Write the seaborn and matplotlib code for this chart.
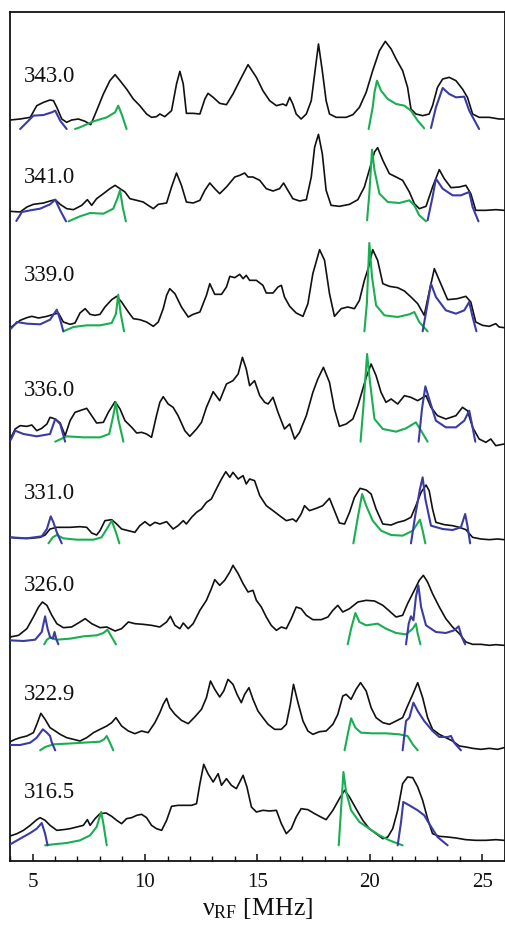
import matplotlib
matplotlib.use("Agg")
import matplotlib.pyplot as plt
from matplotlib.ticker import MultipleLocator
import seaborn as sns
import pandas as pd

# ---------------- data (x in MHz, intensity in arbitrary units) ----------------
field_labels = ["343.0", "341.0", "339.0", "336.0", "331.0", "326.0", "322.9", "316.5"]
offsets = [2223, 1949, 1602, 1286, 969, 672, 360, 75]
label_y = [2340, 2037, 1743, 1398, 1089, 813, 486, 192]

black_343 = [(4.01,0),(4.45,3),(4.90,8),(5.19,43),(5.49,53),(5.78,60),(5.93,58),(6.08,38),(6.30,3),(6.52,-7),(6.74,0),(7.04,3),(7.34,-4),(7.59,-14),(7.85,28),(8.15,78),(8.44,118),(8.67,136),(8.89,118),(9.18,93),(9.48,63),(9.77,43),(10.07,18),(10.29,8),(10.51,10),(10.66,18),(10.88,10),(11.18,28),(11.40,108),(11.55,146),(11.70,108),(11.84,20),(12.14,20),(12.44,18),(12.66,63),(12.80,80),(13.03,68),(13.32,50),(13.62,46),(13.91,78),(14.21,118),(14.58,166),(14.95,128),(15.24,88),(15.54,58),(15.84,43),(16.13,48),(16.28,43),(16.43,68),(16.57,48),(16.72,18),(16.94,3),(17.17,18),(17.39,58),(17.54,138),(17.71,228),(17.88,148),(18.05,58),(18.20,18),(18.50,8),(18.94,8),(19.24,16),(19.53,38),(19.83,83),(20.12,148),(20.42,208),(20.68,236),(20.94,213),(21.16,183),(21.45,148),(21.67,98),(21.82,33),(22.04,18),(22.34,13),(22.63,18),(22.78,43),(23.00,98),(23.23,123),(23.52,128),(23.82,118),(24.11,93),(24.33,68),(24.56,18),(24.85,8),(25.30,8),(25.74,3),(25.96,3)]
green_343_a = [(6.89,-27),(7.11,-22),(7.71,-4),(8.30,8),(8.67,23),(8.81,43),(8.96,18),(9.18,-27)]
green_343_b = [(19.94,-27),(20.12,38),(20.20,83),(20.31,118),(20.49,88),(20.79,63),(21.16,48),(21.53,43),(21.82,28),(22.12,-2),(22.41,-25)]
blue_343_a = [(4.45,-27),(4.75,-7),(5.04,13),(5.49,15),(5.86,23),(6.01,28),(6.23,-2),(6.52,-27)]
blue_343_b = [(22.71,-24),(22.93,38),(23.23,96),(23.52,78),(23.82,68),(24.19,70),(24.41,28),(24.85,-27)]

black_341 = [(4.01,0),(4.45,-2),(4.75,13),(5.04,21),(5.49,25),(5.78,31),(6.01,35),(6.23,21),(6.52,8),(6.82,5),(7.19,18),(7.44,35),(7.63,18),(7.85,38),(8.15,53),(8.44,68),(8.67,78),(8.89,68),(9.11,58),(9.33,38),(9.63,33),(9.92,28),(10.14,18),(10.37,8),(10.59,21),(10.96,25),(11.18,73),(11.40,115),(11.62,78),(11.84,28),(12.14,25),(12.44,33),(12.66,63),(12.88,85),(13.10,68),(13.32,53),(13.62,73),(13.99,103),(14.21,108),(14.43,115),(14.58,103),(14.80,103),(15.10,93),(15.39,68),(15.69,61),(15.98,68),(16.16,85),(16.35,63),(16.57,38),(16.87,31),(17.17,35),(17.39,103),(17.54,193),(17.71,231),(17.88,173),(18.05,63),(18.27,18),(18.64,15),(19.09,21),(19.46,35),(19.75,73),(20.05,143),(20.20,178),(20.34,191),(20.57,153),(20.86,113),(21.16,103),(21.45,93),(21.75,58),(21.97,23),(22.19,8),(22.49,15),(22.78,73),(23.08,125),(23.30,98),(23.60,71),(23.97,73),(24.26,78),(24.48,53),(24.70,3),(25.15,3),(25.59,5),(25.96,3)]
green_341_a = [(6.60,-30),(7.11,-15),(7.56,-5),(8.15,-7),(8.59,8),(8.77,38),(8.89,63),(9.01,13),(9.15,-30)]
green_341_b = [(19.87,-27),(19.97,53),(20.09,185),(20.20,123),(20.42,53),(20.79,28),(21.30,25),(21.75,33),(21.97,18),(22.19,-12),(22.49,-30)]
blue_341_a = [(4.28,-29),(4.53,-2),(4.90,3),(5.34,8),(5.78,21),(6.01,35),(6.23,3),(6.49,-30)]
blue_341_b = [(22.56,-27),(22.78,43),(22.93,98),(23.23,68),(23.67,48),(24.04,48),(24.41,58),(24.56,13),(24.82,-30)]

black_339 = [(4.01,-2),(4.23,8),(4.45,20),(4.75,28),(4.97,32),(5.27,27),(5.64,32),(5.93,38),(6.15,42),(6.37,15),(6.67,8),(6.89,12),(7.11,42),(7.34,55),(7.56,38),(7.78,35),(8.00,38),(8.22,60),(8.52,82),(8.74,92),(8.96,75),(9.26,45),(9.48,25),(9.77,22),(10.07,15),(10.37,2),(10.59,15),(10.81,55),(10.96,95),(11.10,115),(11.33,100),(11.62,60),(11.92,30),(12.14,38),(12.44,45),(12.73,95),(12.88,130),(13.10,98),(13.40,98),(13.62,120),(13.77,152),(13.99,148),(14.21,158),(14.36,145),(14.50,155),(14.65,140),(14.95,140),(15.24,125),(15.39,102),(15.69,102),(15.91,120),(16.06,125),(16.20,90),(16.43,62),(16.72,42),(17.02,32),(17.24,70),(17.46,160),(17.76,232),(17.98,200),(18.20,100),(18.42,32),(18.72,55),(19.01,60),(19.31,55),(19.53,80),(19.75,140),(19.94,180),(20.12,232),(20.34,200),(20.57,130),(20.86,122),(21.23,118),(21.53,108),(21.82,90),(22.12,70),(22.41,35),(22.63,105),(22.86,175),(23.08,140),(23.45,82),(23.89,85),(24.26,92),(24.48,75),(24.70,15),(25.00,5),(25.30,2),(25.59,10),(25.74,0),(25.96,-2)]
green_339_a = [(6.37,-13),(6.82,0),(7.41,5),(8.00,5),(8.52,12),(8.71,40),(8.81,97),(8.92,40),(9.07,-13)]
green_339_b = [(19.75,-13),(19.86,70),(19.97,252),(20.09,150),(20.27,65),(20.64,35),(21.23,30),(21.75,38),(21.97,45),(22.19,15),(22.56,-13)]
blue_339_a = [(4.04,-5),(4.31,15),(4.75,10),(5.34,8),(5.78,22),(6.08,52),(6.23,22),(6.37,-13)]
blue_339_b = [(22.34,-13),(22.56,70),(22.71,130),(22.93,90),(23.37,50),(23.82,40),(24.19,50),(24.41,75),(24.56,30),(24.73,-13)]

black_336 = [(4.01,-20),(4.23,10),(4.45,20),(4.75,18),(4.97,22),(5.19,5),(5.41,12),(5.64,25),(5.78,45),(6.01,40),(6.23,28),(6.45,-10),(6.67,35),(6.89,60),(7.19,67),(7.41,72),(7.63,50),(7.85,28),(8.15,30),(8.37,60),(8.67,92),(8.89,70),(9.11,35),(9.41,15),(9.63,-2),(9.85,0),(10.07,-5),(10.29,-15),(10.51,50),(10.66,90),(10.81,107),(11.03,85),(11.25,75),(11.47,50),(11.77,5),(11.99,-12),(12.29,10),(12.51,30),(12.73,75),(13.03,122),(13.32,95),(13.62,145),(13.91,155),(14.14,175),(14.33,225),(14.50,190),(14.65,140),(14.87,155),(15.10,110),(15.32,90),(15.47,85),(15.69,105),(15.91,60),(16.20,10),(16.43,25),(16.65,-20),(16.87,0),(17.17,50),(17.46,120),(17.68,160),(17.93,195),(18.20,150),(18.42,70),(18.64,18),(18.94,25),(19.24,40),(19.46,80),(19.68,130),(19.83,165),(20.05,205),(20.27,170),(20.49,120),(20.71,90),(20.94,100),(21.23,85),(21.53,110),(21.82,105),(22.12,95),(22.49,110),(22.71,75),(23.00,50),(23.37,40),(23.82,50),(24.11,75),(24.33,65),(24.56,15),(24.85,-20),(25.15,-30),(25.37,-20),(25.59,-40),(25.96,-35)]
green_336_a = [(6.01,-28),(6.52,-12),(7.26,-15),(8.00,-15),(8.41,-5),(8.59,50),(8.70,90),(8.81,40),(9.04,-28)]
green_336_b = [(19.58,-28),(19.71,80),(19.87,235),(20.00,150),(20.20,40),(20.57,10),(21.16,2),(21.60,12),(22.04,30),(22.27,5),(22.56,-28)]
blue_336_a = [(4.04,-22),(4.23,5),(4.60,-5),(5.19,-12),(5.78,-5),(6.01,40),(6.23,25),(6.45,-28)]
blue_336_b = [(22.16,-28),(22.31,70),(22.46,138),(22.63,100),(22.93,35),(23.37,15),(23.82,15),(24.19,35),(24.41,65),(24.56,15),(24.68,-28)]

black_331 = [(4.01,2),(4.45,-1),(4.90,-1),(5.34,2),(5.56,9),(5.78,27),(6.08,32),(6.30,32),(6.67,32),(7.11,34),(7.41,32),(7.63,15),(7.85,9),(8.00,22),(8.22,52),(8.52,55),(8.74,42),(8.96,27),(9.26,22),(9.55,17),(9.77,37),(10.00,49),(10.22,37),(10.44,47),(10.66,42),(10.96,49),(11.25,27),(11.47,37),(11.70,52),(11.84,42),(12.07,62),(12.29,77),(12.51,87),(12.73,107),(12.95,117),(13.17,147),(13.40,177),(13.59,199),(13.77,182),(13.91,197),(14.14,177),(14.36,187),(14.50,162),(14.65,177),(14.87,172),(15.10,127),(15.39,97),(15.69,82),(15.98,67),(16.28,52),(16.57,57),(16.72,49),(16.94,72),(17.09,97),(17.31,82),(17.61,89),(17.90,97),(18.20,119),(18.42,82),(18.64,45),(18.87,42),(19.09,77),(19.31,122),(19.56,149),(19.83,144),(20.05,132),(20.27,87),(20.57,42),(20.94,39),(21.23,47),(21.53,52),(21.82,62),(22.04,97),(22.27,137),(22.49,159),(22.63,142),(22.78,87),(22.93,47),(23.30,40),(23.67,37),(23.97,32),(24.26,25),(24.56,2),(24.93,-3),(25.30,-5),(25.67,-3),(25.96,-5)]
green_331_a = [(5.71,-16),(5.90,2),(6.08,9),(6.37,-1),(6.97,-5),(7.71,-5),(8.07,2),(8.30,27),(8.52,52),(8.71,17),(8.86,-16)]
green_331_b = [(19.26,-16),(19.46,62),(19.65,132),(19.83,97),(20.12,52),(20.49,22),(20.94,9),(21.45,7),(21.90,22),(22.22,55),(22.34,22),(22.46,-16)]
blue_331_a = [(4.01,2),(4.75,-1),(5.41,5),(5.64,27),(5.81,65),(5.93,47),(6.08,17),(6.30,-16)]
blue_331_b = [(21.82,-16),(22.01,67),(22.22,147),(22.34,182),(22.46,117),(22.71,37),(23.23,27),(23.67,24),(24.04,32),(24.23,72),(24.33,37),(24.45,-16)]

black_326 = [(4.01,0),(4.38,5),(4.75,25),(5.04,60),(5.27,90),(5.44,105),(5.64,95),(5.86,65),(6.08,40),(6.37,28),(6.74,30),(7.11,45),(7.34,55),(7.63,40),(8.00,28),(8.30,30),(8.67,18),(8.96,25),(9.26,45),(9.55,40),(9.92,38),(10.29,35),(10.66,30),(10.96,45),(11.13,62),(11.33,35),(11.55,25),(11.70,42),(11.92,25),(12.14,40),(12.44,80),(12.73,110),(12.95,145),(13.10,172),(13.32,155),(13.54,170),(13.77,195),(13.91,215),(14.14,190),(14.36,160),(14.58,135),(14.80,140),(14.95,110),(15.17,90),(15.39,60),(15.61,35),(15.84,20),(16.06,30),(16.28,25),(16.50,55),(16.72,90),(16.94,85),(17.17,65),(17.46,52),(17.83,52),(18.13,60),(18.35,80),(18.57,95),(18.79,75),(19.09,85),(19.46,105),(19.83,110),(20.20,108),(20.57,95),(20.86,78),(21.16,60),(21.45,65),(21.67,100),(21.97,140),(22.19,170),(22.37,185),(22.56,165),(22.78,130),(23.08,90),(23.37,55),(23.67,30),(23.97,10),(24.26,-15),(24.56,-22),(24.93,-22),(25.30,-25),(25.59,-23),(25.96,-25)]
green_326_a = [(5.52,-22),(5.64,-8),(5.78,-2),(6.08,-8),(6.67,-5),(7.26,2),(7.85,5),(8.15,12),(8.33,22),(8.52,0),(8.71,-22)]
green_326_b = [(19.01,-22),(19.16,25),(19.35,72),(19.53,45),(19.83,35),(20.34,40),(20.71,25),(21.16,12),(21.60,8),(21.90,25),(22.04,40),(22.12,10),(22.24,-22)]
blue_326_a = [(4.01,-10),(4.60,-12),(5.12,-8),(5.41,15),(5.56,62),(5.67,25),(5.78,0),(5.90,-5),(5.98,15),(6.05,-5),(6.15,-22)]
blue_326_b = [(21.60,-22),(21.72,40),(21.82,62),(21.93,50),(22.04,120),(22.15,155),(22.27,90),(22.49,35),(22.93,15),(23.37,12),(23.74,20),(23.94,32),(24.08,0),(24.23,-22)]

black_322 = [(4.01,-2),(4.23,5),(4.45,10),(4.75,15),(5.04,25),(5.22,55),(5.37,83),(5.56,65),(5.78,40),(6.01,30),(6.23,20),(6.52,10),(6.82,5),(7.11,0),(7.41,10),(7.71,25),(8.00,35),(8.30,45),(8.52,55),(8.71,70),(8.96,45),(9.26,30),(9.55,22),(9.85,30),(10.14,25),(10.44,55),(10.66,85),(10.81,110),(10.96,128),(11.10,100),(11.33,80),(11.62,62),(11.92,52),(12.21,72),(12.51,95),(12.73,130),(12.91,180),(13.10,155),(13.32,132),(13.50,150),(13.69,185),(13.91,170),(14.09,140),(14.28,115),(14.43,140),(14.62,160),(14.80,125),(15.02,90),(15.24,70),(15.47,50),(15.76,35),(16.06,35),(16.28,50),(16.46,110),(16.60,170),(16.80,115),(17.02,60),(17.24,30),(17.46,20),(17.76,28),(18.05,30),(18.35,50),(18.57,80),(18.79,135),(18.94,140),(19.16,125),(19.38,155),(19.58,175),(19.83,150),(20.05,100),(20.27,70),(20.57,55),(20.86,50),(21.16,60),(21.45,70),(21.67,105),(21.90,140),(22.12,175),(22.34,130),(22.56,70),(22.78,35),(23.08,20),(23.37,10),(23.67,0),(23.97,-15),(24.26,-18),(24.56,-22),(24.93,-25),(25.30,-22),(25.67,-25),(25.96,-20)]
green_322_a = [(5.34,-28),(5.56,-18),(5.93,-10),(6.52,-8),(7.26,-5),(8.00,-2),(8.18,5),(8.30,15),(8.44,-5),(8.59,-28)]
green_322_b = [(18.87,-28),(19.01,20),(19.16,68),(19.35,40),(19.60,25),(20.12,23),(20.71,23),(21.30,20),(21.67,15),(21.90,-10),(22.12,-28)]
blue_322_a = [(4.01,-12),(4.45,-12),(4.90,-5),(5.19,10),(5.46,35),(5.64,25),(5.78,15),(5.86,-5),(6.01,-28)]
blue_322_b = [(21.45,-28),(21.60,60),(21.75,70),(21.93,115),(22.12,90),(22.41,60),(22.78,30),(23.08,12),(23.45,12),(23.60,15),(23.74,-5),(24.04,-28)]

black_316 = [(4.01,0),(4.31,7),(4.60,17),(4.90,32),(5.19,49),(5.34,55),(5.56,47),(5.78,32),(6.08,17),(6.37,19),(6.67,22),(6.97,27),(7.26,32),(7.44,49),(7.56,32),(7.78,52),(8.00,67),(8.27,69),(8.52,59),(8.74,47),(8.96,37),(9.18,52),(9.41,55),(9.63,62),(9.85,65),(10.07,55),(10.29,32),(10.51,22),(10.74,17),(10.96,47),(11.18,89),(11.47,92),(11.77,92),(12.07,92),(12.29,97),(12.44,157),(12.61,215),(12.80,187),(13.03,162),(13.25,187),(13.40,152),(13.62,172),(13.84,152),(14.06,142),(14.36,182),(14.53,147),(14.73,87),(14.95,72),(15.24,77),(15.54,75),(15.84,77),(16.06,37),(16.28,7),(16.50,22),(16.72,57),(16.94,82),(17.24,79),(17.54,67),(17.76,59),(18.05,49),(18.35,77),(18.64,112),(18.87,137),(19.09,117),(19.38,82),(19.68,47),(19.97,22),(20.27,7),(20.57,-8),(20.79,-3),(21.01,22),(21.23,77),(21.45,157),(21.67,177),(21.90,175),(22.12,147),(22.34,107),(22.56,52),(22.78,7),(23.08,-1),(23.45,-3),(23.82,-6),(24.26,-11),(24.70,-13),(25.15,-13),(25.59,-11),(25.96,-13)]
green_316_a = [(5.56,-28),(5.93,-25),(6.52,-21),(7.11,-13),(7.56,2),(7.85,27),(8.05,72),(8.15,37),(8.30,-28)]
green_316_b = [(18.61,-28),(18.72,87),(18.82,192),(18.94,132),(19.16,77),(19.53,42),(19.97,22),(20.42,2),(20.86,-13),(21.45,-28)]
blue_316_a = [(4.01,-25),(4.45,-8),(4.90,9),(5.19,22),(5.41,39),(5.56,7),(5.67,-28)]
blue_316_b = [(21.23,-28),(21.38,42),(21.48,102),(21.75,92),(22.12,77),(22.41,62),(22.63,37),(23.00,-3),(23.45,-28)]

black_traces = [black_343, black_341, black_339, black_336, black_331, black_326, black_322, black_316]
green_traces = [[green_343_a, green_343_b], [green_341_a, green_341_b], [green_339_a, green_339_b],
                [green_336_a, green_336_b], [green_331_a, green_331_b], [green_326_a, green_326_b],
                [green_322_a, green_322_b], [green_316_a, green_316_b]]
blue_traces = [[blue_343_a, blue_343_b], [blue_341_a, blue_341_b], [blue_339_a, blue_339_b],
               [blue_336_a, blue_336_b], [blue_331_a, blue_331_b], [blue_326_a, blue_326_b],
               [blue_322_a, blue_322_b], [blue_316_a, blue_316_b]]

xticks = [5, 10, 15, 20, 25]

# ---------------- style ----------------
sns.set_theme(style="ticks")
plt.rcParams["font.family"] = ["Liberation Serif", "DejaVu Serif"]
plt.rcParams["mathtext.fontset"] = "custom"
plt.rcParams["mathtext.rm"] = "Liberation Serif"
plt.rcParams["mathtext.it"] = "Liberation Serif:italic"

BLACK = "#111111"
GREEN = "#1aae52"
BLUE = "#3b3ba6"

fig = plt.figure(figsize=(5.06, 9.28), dpi=100)
ax = fig.add_axes([10 / 506, 66 / 928, 495 / 506, 849 / 928])


def draw(trace, off, color, lw, z):
    df = pd.DataFrame(trace, columns=["x", "y"])
    df["y"] = df["y"] + off
    line = sns.lineplot(data=df, x="x", y="y", ax=ax, color=color, lw=lw, sort=False,
                        estimator=None, zorder=z, legend=False)
    ax.lines[-1].set_solid_joinstyle("round")
    return line


for i, lab in enumerate(field_labels):
    off = offsets[i]
    draw(black_traces[i], off, BLACK, 1.2, 2)
    for tr in green_traces[i]:
        draw(tr, off, GREEN, 1.5, 3)
    for tr in blue_traces[i]:
        draw(tr, off, BLUE, 1.5, 3)
    ax.text(4.6, label_y[i], lab, fontsize=16.5, ha="left", va="baseline", color="#111111")

ax.set_xlim(4, 26)
ax.set_ylim(0, 2547)
ax.set_xticks(xticks)
ax.xaxis.set_minor_locator(MultipleLocator(1))
ax.set_yticks([])
ax.set_ylabel("")
ax.tick_params(axis="x", which="both", direction="in", bottom=True, top=False,
               labelsize=15, pad=8, colors="#111111")
ax.tick_params(axis="x", which="major", length=5, width=1.1)
ax.tick_params(axis="x", which="minor", length=3.5, width=1.0)
for s in ax.spines.values():
    s.set_linewidth(1.3)
    s.set_color("#111111")
ax.set_xlabel(r"ν$_{\mathrm{RF}}$ [MHz]", fontsize=18.5, labelpad=3, color="#111111")

fig.savefig("out.png", dpi=100)
